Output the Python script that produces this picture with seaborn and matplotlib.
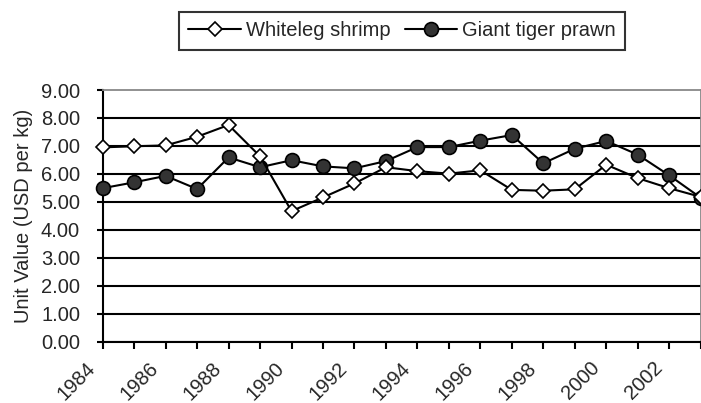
import numpy as np
import pandas as pd
import matplotlib
matplotlib.use('Agg')
import matplotlib.pyplot as plt
import matplotlib.transforms as mtransforms
import seaborn as sns

years = list(range(1984, 2004))
whiteleg = [6.95, 6.99, 7.02, 7.33, 7.75, 6.63, 4.67, 5.16, 5.66, 6.24,
            6.10, 6.01, 6.13, 5.43, 5.40, 5.45, 6.33, 5.85, 5.49, 5.18]
giant_tiger = [5.49, 5.70, 5.93, 5.46, 6.59, 6.24, 6.49, 6.27, 6.20, 6.46,
               6.96, 6.96, 7.19, 7.39, 6.38, 6.90, 7.18, 6.69, 5.95, 5.15]
tick_labels = [str(y) if y % 2 == 0 else '' for y in years]
y_ticks = [0, 1, 2, 3, 4, 5, 6, 7, 8, 9]

sns.set_style('white')
plt.rcParams['font.family'] = ['Liberation Sans', 'DejaVu Sans']
plt.rcParams['font.size'] = 14.5

df = pd.DataFrame({'Year': years, 'Whiteleg shrimp': whiteleg,
                   'Giant tiger prawn': giant_tiger})

fig = plt.figure(figsize=(7.01, 4.03), dpi=100)
ax = fig.add_axes([0.1465, 0.152, 0.853, 0.6246])

sns.lineplot(data=df, x='Year', y='Whiteleg shrimp', ax=ax, color='black',
             linewidth=1.5, marker='D', markersize=7, markerfacecolor='white',
             markeredgecolor='black', markeredgewidth=1.2,
             label='Whiteleg shrimp', zorder=4, clip_on=False)
sns.lineplot(data=df, x='Year', y='Giant tiger prawn', ax=ax, color='black',
             linewidth=1.5, marker='o', markersize=10, markerfacecolor='#333333',
             markeredgecolor='black', markeredgewidth=1.2,
             label='Giant tiger prawn', zorder=3, clip_on=False)

ax.set_xlim(1984, 2003)
ax.set_ylim(0, 9)
ax.set_xticks(years)
ax.set_xticklabels(tick_labels, rotation=45, ha='right', va='top',
                   rotation_mode='anchor')
ax.set_yticks(y_ticks)
ax.set_yticklabels([f'{v:.2f}' for v in y_ticks])
ax.tick_params(axis='y', left=True, direction='out', length=4.3, width=1.5,
               color='black', labelsize=14.5, pad=12)
ax.tick_params(axis='x', bottom=True, direction='out', length=5, width=1.5,
               color='black', labelsize=14.5, pad=7)
# push the rotated year labels left, like the original
shift = mtransforms.ScaledTranslation(-12 / 72, 0, fig.dpi_scale_trans)
for lab in ax.get_xticklabels():
    lab.set_transform(lab.get_transform() + shift)

ax.set_axisbelow(True)
ax.grid(axis='y', color='black', linewidth=1.5)
ax.grid(axis='x', visible=False)
ax.yaxis.get_gridlines()[-1].set_visible(False)
ax.set_xlabel('')
ax.set_ylabel('Unit Value (USD per kg)', fontsize=14.5, labelpad=6)

for side in ['left', 'bottom']:
    ax.spines[side].set_color('black')
    ax.spines[side].set_linewidth(1.5)
for side in ['top', 'right']:
    ax.spines[side].set_color('#888888')
    ax.spines[side].set_linewidth(1.3)

leg = ax.legend(loc='center', bbox_to_anchor=(402 / 701, 1 - 31 / 403),
                bbox_transform=fig.transFigure, ncol=2, frameon=True,
                fancybox=False, edgecolor='black', handlelength=2.6,
                columnspacing=0.7, handletextpad=0.25, borderpad=0.45,
                fontsize=14.5)
leg.get_frame().set_linewidth(1.5)

fig.savefig('out.png', dpi=100)
